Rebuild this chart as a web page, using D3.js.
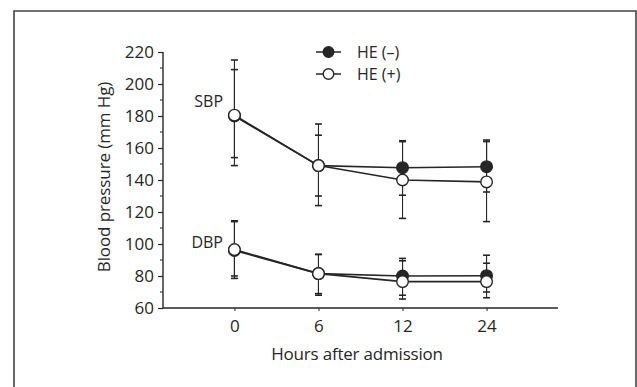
<!DOCTYPE html>
<html><head><meta charset="utf-8">
<script src="https://cdn.jsdelivr.net/npm/d3@7"></script>
<style>
html,body{margin:0;padding:0;background:#fff;}
svg{display:block;font-family:"Open Sans",sans-serif;}
</style></head><body>
<svg id="c" width="637" height="387"></svg>
<script>
const hours = ["0","6","12","24"];
const yTicks = [60,80,100,120,140,160,180,200,220];
const seriesNames = ["HE (\u2013)","HE (+)"];
// SBP
const sbpNeg = [180, 149, 147.7, 148.3];
const sbpNegUpper = [209, 168, 164.5, 165];
const sbpNegLower = [154, 130, 130.5, 132.5];
const sbpPos = [180.5, 149, 140, 138.8];
const sbpPosUpper = [215, 175, 164, 164];
const sbpPosLower = [149, 124, 116, 114];
// DBP
const dbpNeg = [96, 81.5, 80, 80.2];
const dbpNegUpper = [114, 93.5, 89.5, 88];
const dbpNegLower = [80, 69, 68, 70];
const dbpPos = [96.5, 81.5, 76.5, 76.5];
const dbpPosUpper = [114.5, 93.5, 91, 93];
const dbpPosLower = [78.5, 68, 65.6, 66.4];

const ink = "#262626";
const svg = d3.select("#c");
const L = 163, R = 558, T = 52, B = 308;

// frame
svg.append("path").attr("d", `M14,400 L14,11 L636,11 L636,400`)
  .attr("fill","none").attr("stroke","#444").attr("stroke-width",1.6);

const x = d3.scalePoint().domain(hours).range([L, R]).padding(0.85);
const y = d3.scaleLinear().domain([60,220]).range([B, T]);

// y axis
const ya = svg.append("g").attr("transform",`translate(${L},0)`)
  .call(d3.axisLeft(y).tickValues(yTicks).tickSize(5).tickPadding(4).tickSizeOuter(0));
ya.select(".domain").attr("stroke",ink).attr("stroke-width",1.4).attr("d",`M0,${T}V${B}`);
ya.selectAll(".tick line").attr("stroke",ink).attr("stroke-width",1.2);
ya.selectAll("text").attr("font-size",17).attr("fill",ink).attr("font-family","Open Sans");
// minor ticks
svg.append("g").selectAll("line").data(d3.range(70,220,20)).join("line")
  .attr("x1",L-3).attr("x2",L).attr("y1",d=>y(d)).attr("y2",d=>y(d))
  .attr("stroke",ink).attr("stroke-width",1);

// x axis
const xa = svg.append("g").attr("transform",`translate(0,${B})`)
  .call(d3.axisBottom(x).tickSize(3).tickPadding(9).tickSizeOuter(0));
xa.select(".domain").attr("stroke",ink).attr("stroke-width",1.4).attr("d",`M${L},0H${R}`);
xa.selectAll(".tick line").attr("stroke",ink).attr("stroke-width",1);
xa.selectAll("text").attr("font-size",17).attr("fill",ink).attr("font-family","Open Sans");

// axis titles
svg.append("text").attr("x",357).attr("y",360).attr("text-anchor","middle")
  .attr("font-size",17).attr("fill",ink).attr("letter-spacing","-0.2").text("Hours after admission");
svg.append("text").attr("transform","translate(110,177) rotate(-90)").attr("text-anchor","middle")
  .attr("font-size",17).attr("fill",ink).attr("letter-spacing","-0.1").text("Blood pressure (mm Hg)");

// group labels
svg.append("text").attr("x",223).attr("y",107).attr("text-anchor","end")
  .attr("font-size",16).attr("fill",ink).text("SBP");
svg.append("text").attr("x",223).attr("y",248).attr("text-anchor","end")
  .attr("font-size",16).attr("fill",ink).text("DBP");

const groups = [
  {mean: sbpNeg, up: sbpNegUpper, lo: sbpNegLower, filled: true},
  {mean: sbpPos, up: sbpPosUpper, lo: sbpPosLower, filled: false},
  {mean: dbpNeg, up: dbpNegUpper, lo: dbpNegLower, filled: true},
  {mean: dbpPos, up: dbpPosUpper, lo: dbpPosLower, filled: false}
];

const line = d3.line().x((d,i)=>x(hours[i])).y(d=>y(d));
// error bars
groups.forEach(g=>{
  const eg = svg.append("g").attr("stroke",ink).attr("stroke-width",1.1);
  hours.forEach((h,i)=>{
    eg.append("line").attr("x1",x(h)).attr("x2",x(h)).attr("y1",y(g.up[i])).attr("y2",y(g.lo[i]));
    [g.up[i], g.lo[i]].forEach(v=>{
      eg.append("line").attr("x1",x(h)-3.5).attr("x2",x(h)+3.5).attr("y1",y(v)).attr("y2",y(v)).attr("stroke-width",1.6);
    });
  });
});
// lines
groups.forEach(g=>{
  svg.append("path").datum(g.mean).attr("d",line).attr("fill","none")
    .attr("stroke",ink).attr("stroke-width",1.6);
});
// markers: filled first, open on top
[...groups.filter(g=>g.filled), ...groups.filter(g=>!g.filled)].forEach(g=>{
  svg.append("g").selectAll("circle").data(g.mean).join("circle")
    .attr("cx",(d,i)=>x(hours[i])).attr("cy",d=>y(d)).attr("r",5.8)
    .attr("fill", g.filled ? ink : "#fff").attr("stroke",ink).attr("stroke-width",1.4);
});

// legend
const leg = svg.append("g");
[{name: seriesNames[0], filled:true, yy:52},{name: seriesNames[1], filled:false, yy:74}].forEach(d=>{
  leg.append("line").attr("x1",316).attr("x2",341).attr("y1",d.yy).attr("y2",d.yy)
    .attr("stroke",ink).attr("stroke-width",1.5);
  leg.append("circle").attr("cx",328.5).attr("cy",d.yy).attr("r",5.3)
    .attr("fill",d.filled?ink:"#fff").attr("stroke",ink).attr("stroke-width",1.4);
  leg.append("text").attr("x",357).attr("y",d.yy+6).attr("font-size",16).attr("fill",ink).text(d.name);
});
</script>
</body></html>
